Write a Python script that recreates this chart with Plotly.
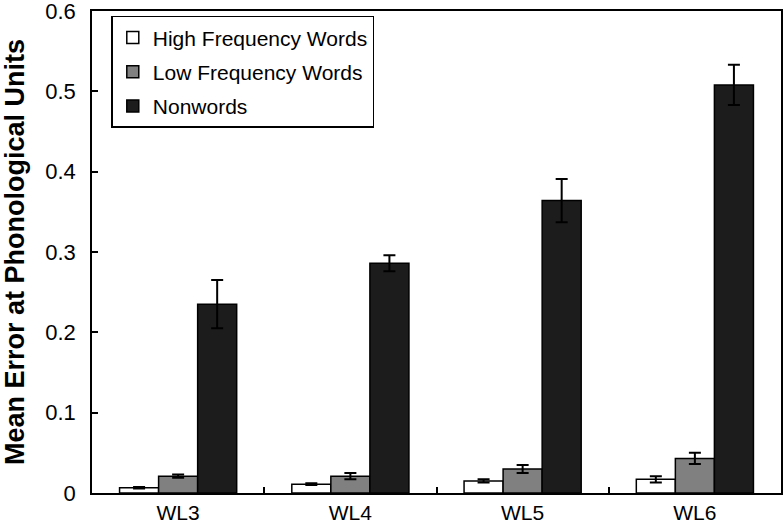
import plotly.graph_objects as go

categories = ["WL3", "WL4", "WL5", "WL6"]
series_names = ["High Frequency Words", "Low Frequency Words", "Nonwords"]
high_freq = [0.0066, 0.011, 0.015, 0.017]
high_freq_err = [0.001, 0.001, 0.002, 0.004]
low_freq = [0.021, 0.021, 0.030, 0.043]
low_freq_err = [0.002, 0.004, 0.005, 0.007]
nonwords = [0.235, 0.286, 0.364, 0.508]
nonwords_err = [0.030, 0.010, 0.027, 0.025]
y_range = [0, 0.6]
y_tick_step = 0.1

colors = ["#ffffff", "#808080", "#1c1c1c"]
vals = [high_freq, low_freq, nonwords]
errs = [high_freq_err, low_freq_err, nonwords_err]

fig = go.Figure()
for i, (name, v, e, c) in enumerate(zip(series_names, vals, errs, colors)):
    fig.add_trace(go.Bar(
        x=categories, y=v, name=name, legendgroup="g%d" % i,
        marker=dict(color=c, line=dict(color="#000000", width=1.5)),
        error_y=dict(type="data", array=e, visible=True, color="#000000",
                     thickness=2, width=6),
    ))

fig.update_layout(
    width=783, height=523,
    margin=dict(l=92, r=2, t=11, b=30, autoexpand=False),
    paper_bgcolor="white", plot_bgcolor="white",
    barmode="group", bargap=0.32, bargroupgap=0,
    font=dict(family="Arial, Liberation Sans, sans-serif", size=22, color="#000000"),
    showlegend=True,
    legend=dict(x=0.028, y=0.99, xanchor="left", yanchor="top",
                bgcolor="white", bordercolor="#000000", borderwidth=1.5,
                font=dict(size=21), traceorder="grouped", tracegroupgap=4),
    xaxis=dict(showline=True, linecolor="#000000", linewidth=1.5, mirror=True,
               ticks="inside", ticklen=6, tickwidth=1.5, tickcolor="#000000",
               tickson="boundaries", showgrid=False, tickfont=dict(size=21),
               automargin=False),
    yaxis=dict(range=y_range, tickmode="linear", tick0=0, dtick=y_tick_step,
               showline=True, linecolor="#000000", linewidth=1.5, mirror=True,
               ticks="inside", ticklen=6, tickwidth=1.5, tickcolor="#000000",
               showgrid=False, zeroline=False, tickfont=dict(size=22),
               ticklabelstandoff=10, ticklabeloverflow="allow", automargin=False,
               title=dict(text="<b>Mean Error at Phonological Units</b>",
                          font=dict(size=27), standoff=24)),
)

fig.write_html("out.html", config={"displayModeBar": False},
               post_script="document.body.style.margin='0';")
